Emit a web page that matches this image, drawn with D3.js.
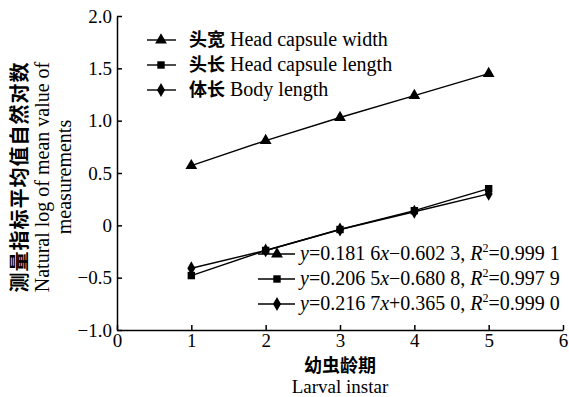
<!DOCTYPE html>
<html>
<head>
<meta charset="utf-8">
<script src="https://cdn.jsdelivr.net/npm/d3@7"></script>
<style>
  body { margin: 0; background: #fff; }
  text { font-family: "Liberation Serif", "DejaVu Serif", serif; fill: #000; }
  .cjk { font-family: "Noto Sans CJK SC", sans-serif; font-weight: bold; }
</style>
</head>
<body>
<div id="chart"></div>
<script>
// larval instar on x
var instars = [1, 2, 3, 4, 5];
// natural log of mean value
var headWidth = [0.57, 0.81, 1.03, 1.24, 1.45];
var headLength = [-0.48, -0.24, -0.04, 0.14, 0.35];
var bodyLength = [-0.41, -0.24, -0.04, 0.13, 0.30];

var xTicks = [0, 1, 2, 3, 4, 5, 6];
var yTicks = [-1.0, -0.5, 0, 0.5, 1.0, 1.5, 2.0];
var yTickLabels = ["\u22121.0", "\u22120.5", "0", "0.5", "1.0", "1.5", "2.0"];

var seriesNames = ["\u5934\u5bbd", "\u5934\u957f", "\u4f53\u957f"];
var seriesEnglish = ["Head capsule width", "Head capsule length", "Body length"];
var seriesSymbols = ["triangle", "square", "diamond"];

// the fit equations legend (markers in the same order as the original)
var eqSlope = ["0.181 6", "0.206 5", "0.216 7"];
var eqSign = ["\u2212", "\u2212", "+"];
var eqIntercept = ["0.602 3", "0.680 8", "0.365 0"];
var eqR2 = ["0.999 1", "0.997 9", "0.999 0"];

var width = 569, height = 397;
var margin = {left: 117, right: 6, top: 16, bottom: 67};
var serif = "'Liberation Serif', 'DejaVu Serif', serif";

var svg = d3.select("#chart").append("svg")
  .attr("width", width)
  .attr("height", height);

var x = d3.scaleLinear().domain([0, 6]).range([margin.left, width - margin.right]);
var y = d3.scaleLinear().domain([-1, 2]).range([height - margin.bottom, margin.top]);

//symbol sizes (area)
var symbolTypes = {triangle: d3.symbolTriangle, square: d3.symbolSquare, diamond: d3.symbolDiamond};
var symbolSizes = {triangle: 60, square: 55, diamond: 55};

// axes, ticks point inward
var xAxis = d3.axisBottom(x).tickValues(xTicks).tickSizeInner(-5).tickSizeOuter(0).tickPadding(6)
  .tickFormat(d3.format("d"));
var yAxis = d3.axisLeft(y).tickValues(yTicks).tickSizeInner(-5).tickSizeOuter(0).tickPadding(5)
  .tickFormat(function (d) { return yTickLabels[yTicks.indexOf(d)]; });

var gx = svg.append("g").attr("transform", "translate(0," + y(-1) + ")").call(xAxis);
var gy = svg.append("g").attr("transform", "translate(" + x(0) + ",0)").call(yAxis);

[gx, gy].forEach(function (g) {
  g.attr("font-family", serif).attr("font-size", 19);
  g.selectAll("path, line").attr("stroke", "#000").attr("stroke-width", 1.5);
  g.selectAll("text").attr("fill", "#000");
});
gx.selectAll("text").attr("dy", "0.6em");

// data lines + markers
var allSeries = [headWidth, headLength, bodyLength];
var line = d3.line()
  .x(function (d, i) { return x(instars[i]); })
  .y(function (d) { return y(d); });

allSeries.forEach(function (vals, s) {
  svg.append("path")
    .datum(vals)
    .attr("d", line)
    .attr("fill", "none")
    .attr("stroke", "#000")
    .attr("stroke-width", 1.4);

  svg.selectAll(".pt" + s)
    .data(vals)
    .enter().append("path")
    .attr("transform", function (d, i) { return "translate(" + x(instars[i]) + "," + y(d) + ")"; })
    .attr("d", d3.symbol().type(symbolTypes[seriesSymbols[s]]).size(symbolSizes[seriesSymbols[s]]))
    .attr("fill", "#000");
});

// top-left legend
var legendTop = svg.append("g");
seriesNames.forEach(function (name, i) {
  var ly = 40 + i * 25;
  legendTop.append("line")
    .attr("x1", 147).attr("x2", 176).attr("y1", ly).attr("y2", ly)
    .attr("stroke", "#000").attr("stroke-width", 1.4);
  legendTop.append("path")
    .attr("transform", "translate(161," + ly + ")")
    .attr("d", d3.symbol().type(symbolTypes[seriesSymbols[i]]).size(symbolSizes[seriesSymbols[i]]))
    .attr("fill", "#000");
  var t = legendTop.append("text").attr("x", 189).attr("y", ly + 6).style("font-size", "20px");
  t.append("tspan").attr("class", "cjk").style("font-size", "18px").text(name);
  t.append("tspan").text(" " + seriesEnglish[i]);
});

// bottom-right equations legend
var legendEq = svg.append("g");
eqSlope.forEach(function (slope, i) {
  var ly = 254 + i * 25;
  legendEq.append("line")
    .attr("x1", 258).attr("x2", 295).attr("y1", ly).attr("y2", ly)
    .attr("stroke", "#000").attr("stroke-width", 1.4);
  legendEq.append("path")
    .attr("transform", "translate(277," + ly + ")")
    .attr("d", d3.symbol().type(symbolTypes[seriesSymbols[i]]).size(symbolSizes[seriesSymbols[i]]))
    .attr("fill", "#000");
  var t = legendEq.append("text").attr("x", 300).attr("y", ly + 6).style("font-size", "20px");
  t.append("tspan").style("font-style", "italic").text("y");
  t.append("tspan").text("=" + slope);
  t.append("tspan").style("font-style", "italic").text("x");
  t.append("tspan").text(eqSign[i] + eqIntercept[i] + ", ");
  t.append("tspan").style("font-style", "italic").text("R");
  t.append("tspan").attr("dy", -8).style("font-size", "12px").text("2");
  t.append("tspan").attr("dy", 8).text("=" + eqR2[i]);
});

// axis titles
svg.append("text")
  .attr("class", "cjk")
  .attr("x", x(3)).attr("y", 372)
  .attr("text-anchor", "middle")
  .style("font-size", "18px")
  .text("\u5e7c\u866b\u9f84\u671f");
svg.append("text")
  .attr("x", x(3)).attr("y", 393)
  .attr("text-anchor", "middle")
  .style("font-size", "19px")
  .text("Larval instar");

var yTitle = svg.append("g").attr("transform", "translate(0,177) rotate(-90)");
yTitle.append("text")
  .attr("class", "cjk")
  .attr("x", 0).attr("y", 27)
  .attr("text-anchor", "middle")
  .style("font-size", "20px")
  .style("letter-spacing", "1px")
  .text("\u6d4b\u91cf\u6307\u6807\u5e73\u5747\u503c\u81ea\u7136\u5bf9\u6570");
yTitle.append("text")
  .attr("x", 0).attr("y", 49)
  .attr("text-anchor", "middle")
  .style("font-size", "20px")
  .text("Natural log of mean value of");
yTitle.append("text")
  .attr("x", 0).attr("y", 71)
  .attr("text-anchor", "middle")
  .style("font-size", "20px")
  .text("measurements");
</script>
</body>
</html>
